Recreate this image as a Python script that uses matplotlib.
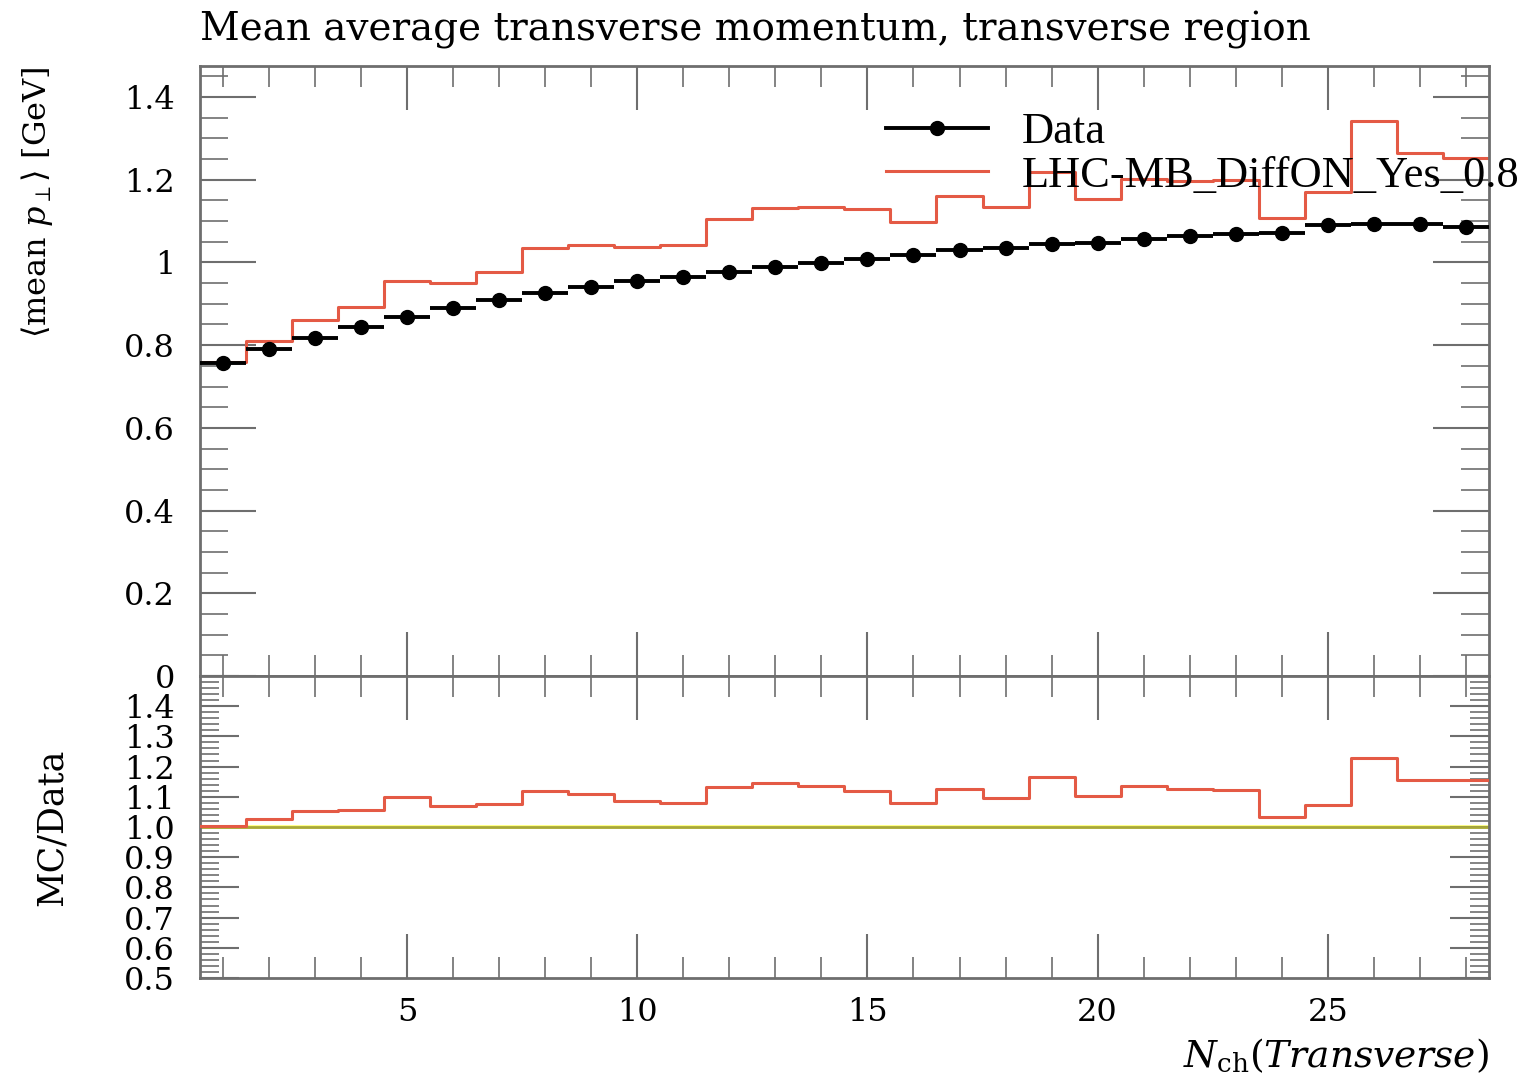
import numpy as np
import matplotlib
matplotlib.use("Agg")
import matplotlib.pyplot as plt
from matplotlib.ticker import MultipleLocator, FuncFormatter

# ---- data ----
nch = np.arange(1, 29)
bin_edges = np.arange(0.5, 29.0, 1.0)
data_vals = [0.758, 0.790, 0.817, 0.845, 0.867, 0.889, 0.909, 0.926, 0.940, 0.955,
             0.964, 0.977, 0.988, 0.999, 1.009, 1.017, 1.029, 1.034, 1.044, 1.048,
             1.057, 1.063, 1.068, 1.071, 1.090, 1.093, 1.094, 1.085]
data_err = [0.004] * 28
mc_vals = [0.760, 0.810, 0.860, 0.893, 0.954, 0.950, 0.977, 1.035, 1.043, 1.038,
           1.042, 1.106, 1.131, 1.133, 1.129, 1.098, 1.160, 1.134, 1.218, 1.154,
           1.202, 1.198, 1.200, 1.108, 1.170, 1.341, 1.265, 1.253]

title = "Mean average transverse momentum, transverse region"
ylabel_main = r"$\langle$mean $p_\perp\rangle$ [GeV]"
ylabel_ratio = "MC/Data"
xlabel = r"$N_\mathrm{ch}(Transverse)$"
labels = ["Data", "LHC-MB_DiffON_Yes_0.8"]

data_arr = np.array(data_vals)
mc_arr = np.array(mc_vals)
ratio = mc_arr / data_arr

plt.rcParams['font.family'] = ['DejaVu Serif']
plt.rcParams['mathtext.fontset'] = 'dejavuserif'

RED = '#e45a45'
SPINE = '#6e6e6e'

fig = plt.figure(figsize=(15.26, 10.74), dpi=100)
ax = fig.add_axes([0.131, 0.3706, 0.8447, 0.5679])
rax = fig.add_axes([0.131, 0.0894, 0.8447, 0.2812], sharex=ax)

# main panel
mc_step = np.append(mc_arr, mc_arr[-1])
ax.step(bin_edges, mc_step, where='post', color=RED, lw=2.2, label=labels[1], zorder=2)
ax.errorbar(nch, data_arr, xerr=0.5, yerr=data_err, fmt='o', color='black',
            ms=10, lw=2.8, capsize=0, zorder=3)
ax.plot([], [], color='black', marker='o', ms=10, lw=2.8, label=labels[0])

ax.set_xlim(0.5, 28.5)
ax.set_ylim(0, 1.475)

h, l = ax.get_legend_handles_labels()
leg = ax.legend([h[1], h[0]], [l[1], l[0]], loc='upper left',
                bbox_to_anchor=(0.501, 0.99), frameon=False,
                prop={'family': 'Liberation Serif', 'size': 32},
                handlelength=2.3, handletextpad=0.75, labelspacing=0.08)

# ratio panel
rax.fill_between([0.5, 28.5], 0.993, 1.007, color='#ffff88', lw=0, zorder=1)
rax.axhline(1.0, color='#a8a83a', lw=2, zorder=2)
r_step = np.append(ratio, ratio[-1])
rax.step(bin_edges, r_step, where='post', color=RED, lw=2.2, zorder=3)
rax.set_ylim(0.5, 1.5)

fmt_g = FuncFormatter(lambda v, p: '%g' % round(v, 6))

for a in (ax, rax):
    a.tick_params(which='both', direction='in', top=True, right=True,
                  colors=SPINE, labelcolor='black', labelsize=23)
    a.tick_params(which='major', length=32, width=1.5)
    a.tick_params(which='minor', length=15, width=1.2)
    a.tick_params(axis='y', which='both', pad=18)
    for s in a.spines.values():
        s.set_color(SPINE)
        s.set_linewidth(2)
    a.xaxis.set_major_locator(MultipleLocator(5))
    a.xaxis.set_minor_locator(MultipleLocator(1))

ax.yaxis.set_major_locator(MultipleLocator(0.2))
ax.yaxis.set_minor_locator(MultipleLocator(0.05))
ax.yaxis.set_major_formatter(fmt_g)
ax.tick_params(axis='y', which='major', length=40)
ax.tick_params(axis='y', which='minor', length=20)
plt.setp(ax.get_xticklabels(), visible=False)

rax.yaxis.set_major_locator(MultipleLocator(0.1))
rax.yaxis.set_minor_locator(MultipleLocator(0.02))
rax.yaxis.set_major_formatter(FuncFormatter(lambda v, p: '' if v > 1.45 else '%.1f' % v))
rax.tick_params(axis='y', which='major', length=28)
rax.tick_params(axis='y', which='minor', length=14)
rax.tick_params(axis='x', which='major', pad=14)

fig.text(0.131, 0.99, title, ha='left', va='top', fontsize=28)
ax.set_ylabel(ylabel_main, loc='top', fontsize=23, labelpad=50)
rax.set_ylabel(ylabel_ratio, fontsize=25, labelpad=40)
rax.set_xlabel(xlabel, loc='right', fontsize=27, labelpad=6)

fig.savefig('out.png', dpi=100)
